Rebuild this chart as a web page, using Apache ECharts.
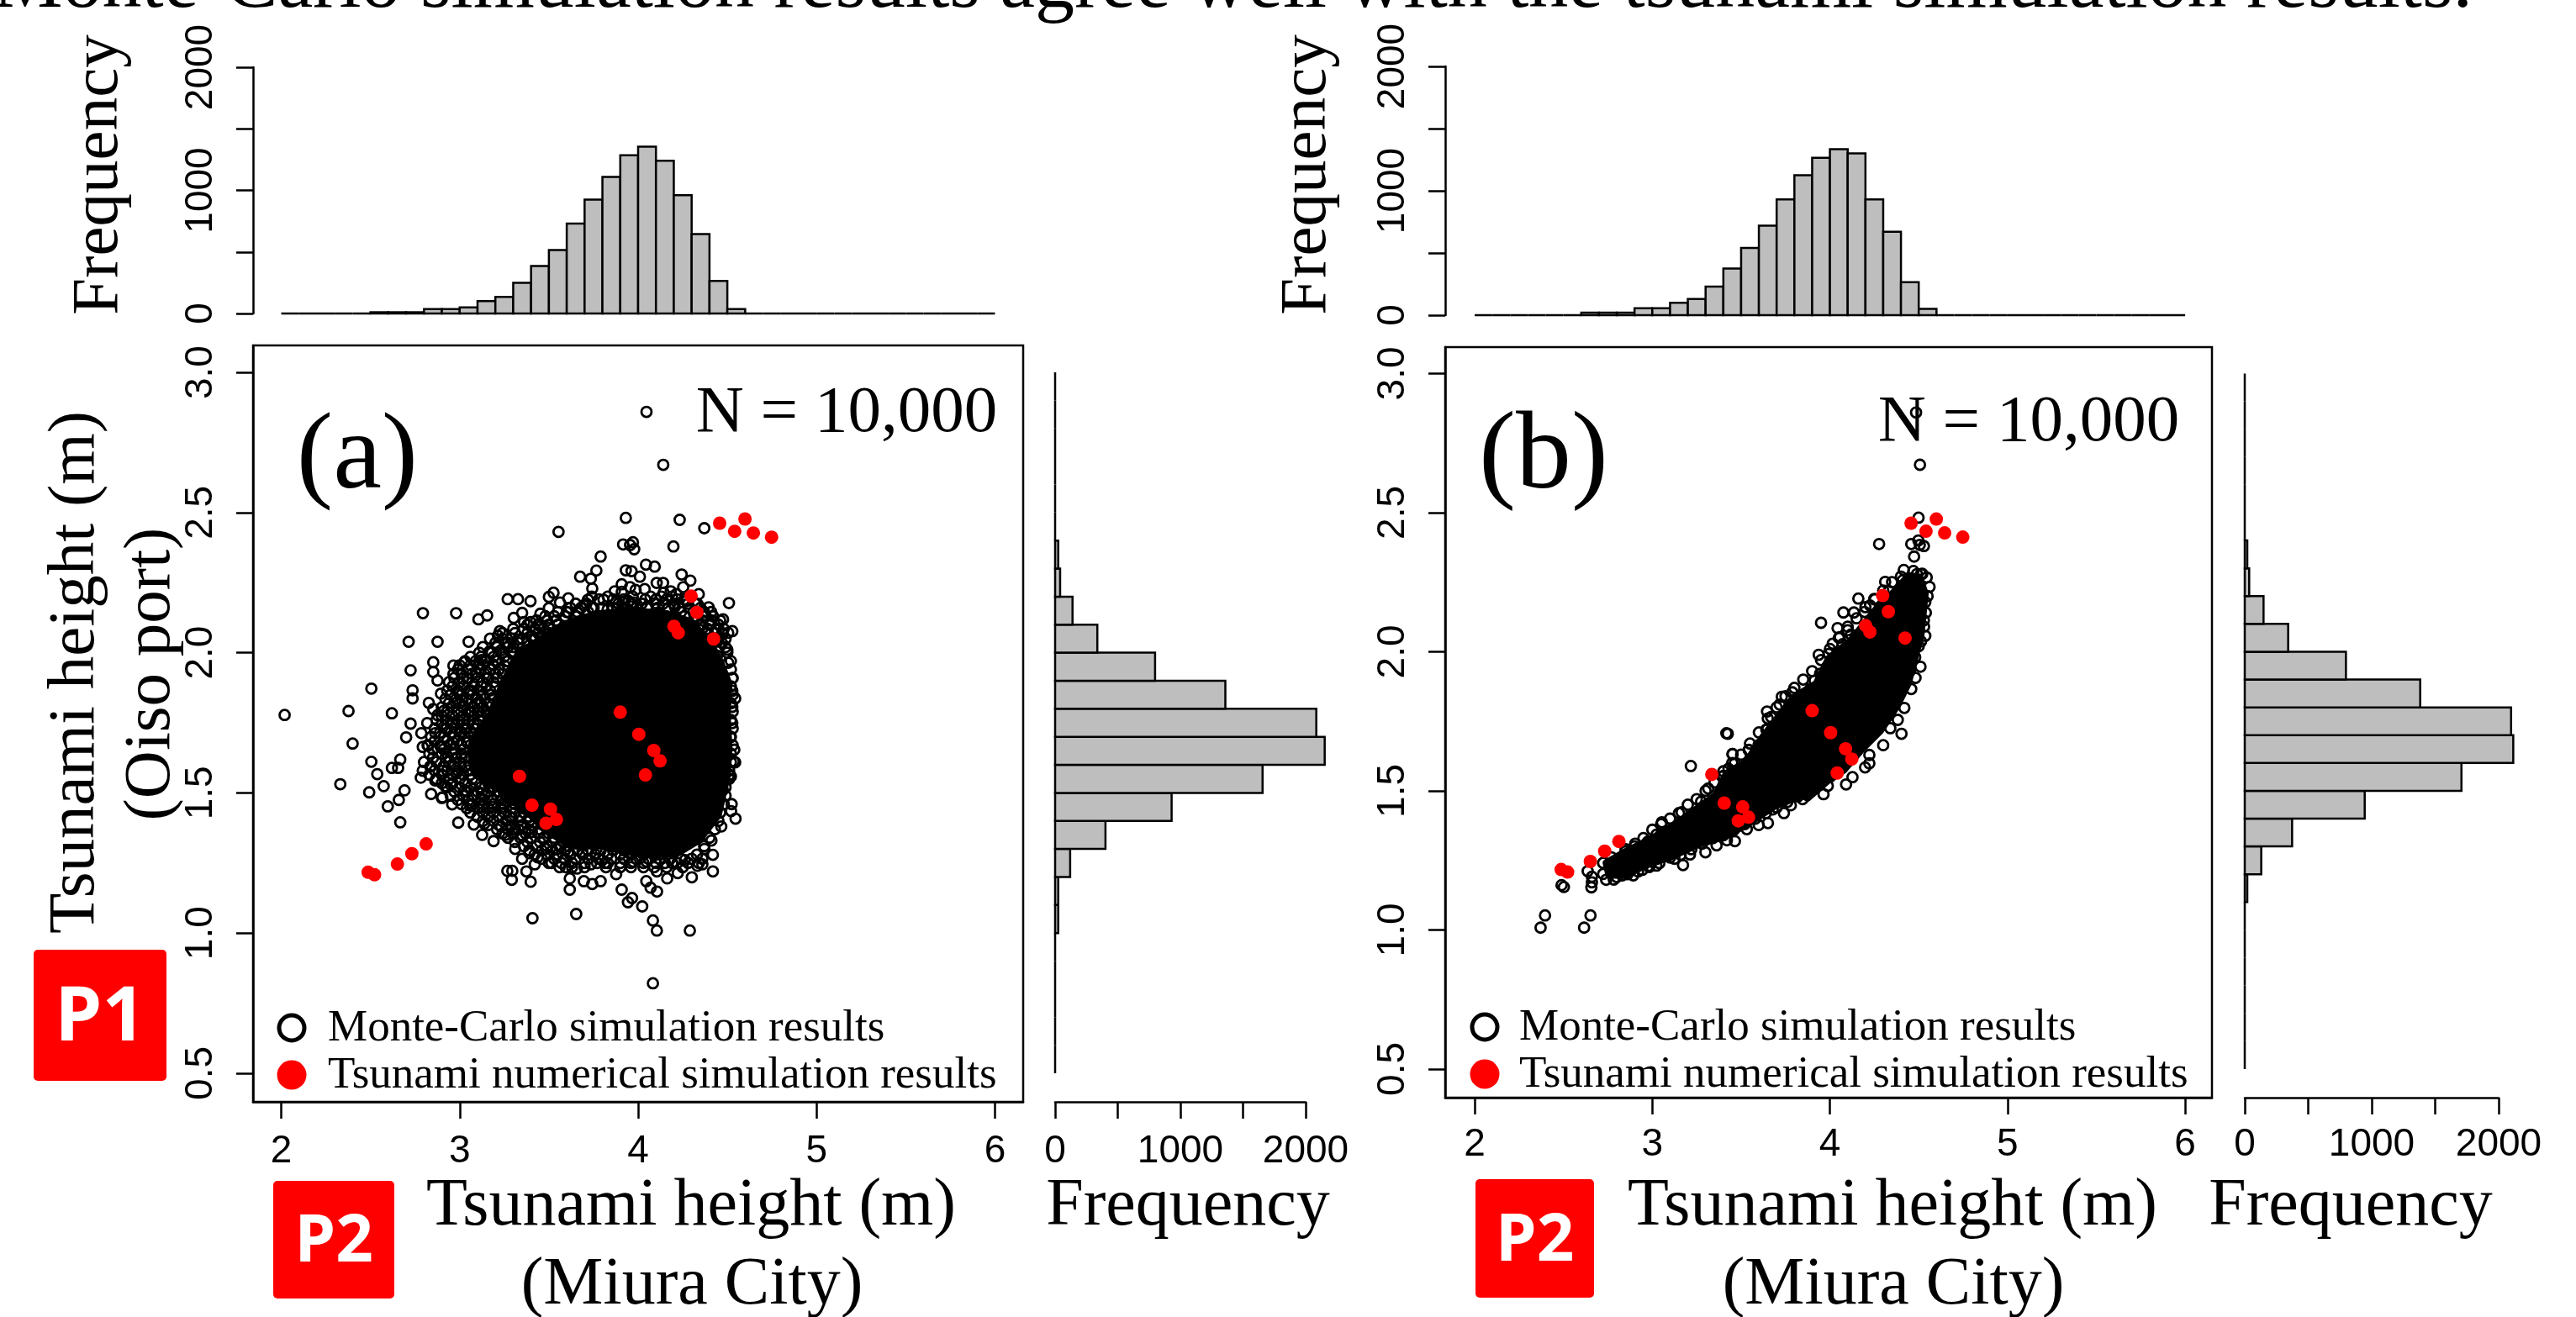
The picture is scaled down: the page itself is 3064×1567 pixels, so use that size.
<!DOCTYPE html>
<html>
<head>
<meta charset="utf-8">
<title>Monte-Carlo simulation results</title>
<script src="https://cdn.jsdelivr.net/npm/echarts@6/dist/echarts.min.js"></script>
<style>html,body{margin:0;padding:0;background:#fff}#c{width:3064px;height:1567px}</style>
</head>
<body>
<div id="c"></div>
<script>
// ---------- data ----------
const xBinStarts = [2.0,2.1,2.2,2.3,2.4,2.5,2.6,2.7,2.8,2.9,3.0,3.1,3.2,3.3,3.4,3.5,3.6,3.7,3.8,3.9,4.0,4.1,4.2,4.3,4.4,4.5,4.6,4.7,4.8,4.9,5.0,5.1,5.2,5.3,5.4,5.5,5.6,5.7,5.8,5.9];
const yBinStarts = [0.5,0.6,0.7,0.8,0.9,1.0,1.1,1.2,1.3,1.4,1.5,1.6,1.7,1.8,1.9,2.0,2.1,2.2,2.3,2.4,2.5,2.6,2.7,2.8,2.9];
const topFreqA = [0,0,0,0,0,10,10,10,35,35,50,100,135,250,385,515,730,925,1110,1285,1355,1240,960,645,265,35,0,0,0,0,0,0,0,0,0,0,0,0,0,0];
const topFreqB = [0,0,0,0,0,0,20,20,20,55,55,100,130,230,375,540,720,930,1125,1265,1335,1300,930,670,265,50,0,0,0,0,0,0,0,0,0,0,0,0,0,0];
const rightFreqA = [0,0,0,0,0,25,25,120,402,930,1656,2152,2085,1359,798,337,139,40,25,0,0,0,0,0,0];
const rightFreqB = [0,0,0,0,0,0,20,130,373,945,1707,2115,2098,1382,797,342,148,35,20,0,0,0,0,0,0];
const xTicks = [2,3,4,5,6];
const yTicks = [0.5,1.0,1.5,2.0,2.5,3.0];

const numericalResults = [[4.457,2.462],[4.599,2.477],[4.541,2.433],[4.646,2.427],[4.748,2.412],[4.297,2.202],[4.329,2.144],[4.201,2.094],[4.225,2.071],[4.423,2.049],[3.900,1.788],[4.004,1.709],[4.088,1.651],[4.123,1.614],[4.041,1.564],[3.335,1.559],[3.405,1.456],[3.509,1.442],[3.542,1.405],[3.484,1.392],[2.812,1.318],[2.732,1.283],[2.651,1.246],[2.487,1.217],[2.523,1.208]];

// outline of the fully black (overplotted) cloud
const denseCloudA = [[3.56,2.09],[3.33,2.00],[3.24,1.89],[3.17,1.78],[3.08,1.70],[3.06,1.66],[3.08,1.57],[3.25,1.50],[3.38,1.43],[3.50,1.36],[3.62,1.31],[3.80,1.31],[4.02,1.28],[4.21,1.28],[4.34,1.33],[4.45,1.42],[4.50,1.56],[4.51,1.66],[4.50,1.78],[4.51,1.89],[4.46,1.97],[4.41,2.03],[4.30,2.11],[4.16,2.14],[3.97,2.15],[3.78,2.14],[3.66,2.12]];
const denseCloudB = [[4.506,2.269],[4.537,2.208],[4.513,2.057],[4.474,1.966],[4.442,1.886],[4.379,1.805],[4.285,1.715],[4.174,1.644],[4.079,1.574],[3.985,1.534],[3.874,1.473],[3.843,1.483],[3.685,1.443],[3.528,1.377],[3.417,1.337],[3.259,1.307],[3.102,1.261],[2.960,1.231],[2.849,1.196],[2.755,1.196],[2.739,1.241],[2.849,1.282],[3.007,1.332],[3.133,1.382],[3.244,1.433],[3.354,1.483],[3.417,1.563],[3.528,1.604],[3.622,1.695],[3.795,1.836],[3.922,1.886],[3.993,1.977],[4.111,2.037],[4.253,2.148],[4.379,2.228],[4.442,2.274]];

const monteCarloA = [[4.047,2.859],[4.141,2.670],[3.554,2.431],[3.526,2.214],[3.50,2.199],[3.269,2.191],[3.327,2.191],[3.397,2.184],[2.794,2.141],[2.980,2.141],[3.154,2.133],[3.105,2.119],[3.303,2.124],[3.350,2.142],[3.361,2.109],[3.397,2.109],[3.452,2.094],[2.714,2.039],[2.876,2.039],[3.050,2.039],[3.225,2.077],[3.214,2.061],[3.327,2.047],[3.167,2.004],[3.256,2.034],[3.303,2.004],[2.852,1.966],[2.725,1.937],[2.852,1.931],[2.876,1.901],[2.965,1.954],[2.965,1.924],[3.027,1.966],[3.016,1.907],[3.052,1.907],[3.122,1.974],[3.107,1.959],[2.505,1.872],[2.736,1.866],[2.736,1.837],[2.895,1.854],[2.994,1.859],[3.060,1.866],[2.978,1.821],[3.016,1.829],[2.827,1.821],[2.852,1.799],[2.911,1.792],[2.876,1.777],[2.019,1.778],[2.377,1.792],[2.620,1.784],[2.725,1.747],[2.818,1.749],[2.958,1.751],[2.926,1.729],[2.863,1.713],[2.785,1.713],[2.700,1.698],[2.400,1.676],[2.793,1.664],[2.824,1.669],[2.895,1.664],[3.005,1.717],[3.020,1.759],[3.060,1.789],[2.505,1.611],[2.667,1.619],[2.620,1.589],[2.655,1.589],[2.538,1.567],[2.793,1.579],[2.835,1.594],[2.782,1.554],[2.331,1.531],[2.574,1.524],[2.493,1.502],[2.691,1.509],[2.863,1.544],[2.918,1.524],[2.840,1.496],[2.903,1.484],
[3.091,1.929],[3.154,1.909],[3.185,1.959],[3.233,2.009],[3.264,1.969],[3.123,1.879],[3.185,1.839],[3.248,1.879],[3.099,1.819],[3.154,1.779],[3.028,1.729],[3.091,1.729],[2.965,1.679],[3.044,1.679],[2.934,1.629],[3.013,1.629],[3.091,1.659],[2.903,1.579],[2.981,1.569],[3.060,1.599],[3.123,1.579],[3.185,1.569],[2.950,1.529],[3.028,1.509],[3.123,1.499],[3.185,1.519],[3.248,1.499],[3.452,2.139],[3.50,2.159],[3.562,2.179],[3.405,2.059],[3.452,2.039],[3.50,2.089],[3.374,2.009],[3.311,1.959],
[3.931,2.481],[4.233,2.474],[4.371,2.444],[3.916,2.386],[3.971,2.394],[3.978,2.369],[3.955,2.384],[4.198,2.379],[3.790,2.343],[4.044,2.314],[4.093,2.307],[3.766,2.293],[3.675,2.271],[3.735,2.264],[3.743,2.229],[3.931,2.294],[3.963,2.291],[4.010,2.271],[4.244,2.279],[4.293,2.257],[4.104,2.249],[4.140,2.249],[4.037,2.227],[4.253,2.234],[3.955,2.234],[3.908,2.244],[3.869,2.219],[3.908,2.217],[3.986,2.224],[3.609,2.194],[3.719,2.189],[3.806,2.189],[3.876,2.179],[3.916,2.179],[3.978,2.179],[3.947,2.184],[4.143,2.214],[4.183,2.219],[4.214,2.209],[4.340,2.209],[4.332,2.174],[4.395,2.162],[4.509,2.177],[4.476,2.119],[4.410,2.104],[4.528,2.077],[4.505,2.071],[4.473,2.067],[4.500,2.011],[3.696,2.169],[3.751,2.159],[3.829,2.154],[4.049,2.164],[4.096,2.177],[4.206,2.164],[3.609,2.144],[3.657,2.129],[3.853,2.134],[4.120,2.139],[4.269,2.184],[4.332,2.119],[4.363,2.089],[4.434,2.039],[4.442,1.989],[4.505,1.964],[4.528,1.909],[4.528,1.864],[4.544,1.837],[4.528,1.807],[4.528,1.749],[4.517,1.699],[4.539,1.654],[4.544,1.609],[4.520,1.559],[4.473,1.509],
[4.536,1.612],[4.513,1.565],[4.474,1.510],[4.524,1.460],[4.521,1.435],[4.546,1.408],[4.466,1.380],[4.411,1.330],[4.419,1.279],[4.372,1.300],[4.419,1.220],[4.360,1.245],[4.332,1.240],[4.301,1.199],[4.222,1.214],[4.163,1.195],[4.262,1.260],[4.191,1.250],[4.105,1.220],[4.106,1.148],[4.070,1.162],[4.046,1.185],[4.046,1.255],[3.971,1.255],[3.877,1.210],[3.908,1.155],[3.966,1.125],[3.943,1.110],[4.023,1.095],[4.083,1.045],[4.105,1.009],[4.290,1.009],[4.083,0.821],[3.814,1.250],
[2.667,1.395],[2.992,1.394],[2.597,1.452],[2.659,1.475],[2.900,1.482],[2.958,1.459],[3.060,1.455],[3.079,1.387],[3.126,1.350],[3.190,1.328],[3.256,1.350],[3.311,1.300],[3.311,1.370],[3.233,1.380],[3.138,1.390],[3.123,1.450],[3.185,1.450],[3.248,1.450],[3.295,1.410],[3.390,1.285],[3.350,1.265],[3.421,1.245],[3.374,1.220],[3.267,1.222],[3.295,1.222],[3.292,1.190],[3.398,1.183],[3.408,1.053],[3.653,1.068],[3.515,1.250],[3.594,1.235],[3.617,1.195],[3.617,1.155],[3.696,1.185],[3.743,1.175],[3.790,1.185],[3.657,1.230],[3.735,1.245],[3.798,1.260],[3.437,1.270],[3.484,1.300],[3.547,1.300],[3.610,1.290],[3.688,1.290],[3.767,1.300],[3.845,1.310],[3.405,1.360],[3.343,1.350]];

// circles packed around the black core, estimated row by row: [height, [x values]]
const monteCarloRingA = [
[2.20,[3.74,3.83,3.97,4.07,4.13,4.19]],
[2.19,[3.78,3.86,3.92,4.04,4.10,4.16,4.22,4.26]],
[2.175,[3.65,3.71,3.89,3.96,4.02,4.14,4.20,4.28,4.32]],
[2.16,[3.62,3.68,3.74,3.80,3.86,3.93,3.99,4.05,4.11,4.17,4.23,4.29,4.35]],
[2.145,[3.55,3.60,3.66,3.72,4.24,4.31,4.37,4.41]],
[2.13,[3.48,3.53,3.59,3.65,4.26,4.32,4.38,4.42]],
[2.115,[3.43,3.49,3.54,4.36,4.41,4.46]],
[2.10,[3.38,3.44,3.50,3.55,4.36,4.40,4.45]],
[2.085,[3.30,3.36,3.42,3.47,4.39,4.44,4.48]],
[2.07,[3.24,3.31,3.38,3.44,3.50,4.38,4.43,4.47]],
[2.05,[3.17,3.24,3.29,3.35,3.41,3.46,4.45,4.49]],
[2.035,[3.20,3.27,3.33,3.38,4.47]],
[2.02,[3.13,3.21,3.27,3.30,4.49]],
[2.00,[3.11,3.18,3.24,3.29,4.50]],[1.97,[4.52]],[1.94,[4.52]],[1.91,[4.53]],[1.88,[4.52]],[1.85,[4.53]],[1.82,[4.52]],[1.79,[4.53]],[1.76,[4.52]],[1.73,[4.53]],[1.70,[4.52]],[1.67,[4.53]],[1.64,[4.52]],[1.61,[4.52]],[1.58,[4.51]],[1.55,[4.51]],[1.52,[4.49]],[1.49,[4.49]],[1.46,[4.48]],[1.43,[4.46]],[1.40,[4.45]],[1.37,[4.43]],[1.34,[4.40]],[1.31,[4.37]],[1.28,[4.33]],
[1.985,[3.06,3.12,3.19,3.25]],
[1.97,[3.03,3.09,3.15,3.21,3.27]],
[1.955,[3.00,3.06,3.13,3.19,3.25]],
[1.94,[2.99,3.05,3.11,3.17,3.22]],
[1.925,[3.01,3.07,3.14,3.20,3.24]],
[1.91,[2.97,3.04,3.10,3.16,3.21]],
[1.895,[2.94,3.00,3.07,3.13,3.19]],
[1.88,[2.96,3.02,3.08,3.15,3.20]],
[1.865,[2.93,2.99,3.05,3.11,3.17]],
[1.85,[2.95,3.01,3.07,3.13,3.17]],
[1.835,[2.92,2.98,3.04,3.10,3.14]],
[1.82,[2.94,3.00,3.06,3.12,3.16]],
[1.805,[2.90,2.96,3.02,3.08,3.13]],
[1.79,[2.93,2.99,3.05,3.11,3.15]],
[1.775,[2.90,2.96,3.02,3.08,3.12]],
[1.76,[2.87,2.93,2.99,3.05,3.11]],
[1.745,[2.90,2.96,3.02,3.08,3.10]],
[1.73,[2.86,2.92,2.98,3.04,3.08]],
[1.715,[2.89,2.95,3.01,3.06]],
[1.70,[2.84,2.91,2.97,3.03]],
[1.685,[2.86,2.93,2.99,3.04]],
[1.67,[2.82,2.89,2.95,3.01]],
[1.655,[2.85,2.91,2.97,3.02]],
[1.64,[2.83,2.90,2.96,3.01]],
[1.625,[2.85,2.92,2.98,3.03]],
[1.61,[2.80,2.87,2.94,3.00]],
[1.595,[2.84,2.91,2.97,3.03]],
[1.58,[2.86,2.93,2.99,3.05]],
[1.565,[2.83,2.90,2.96,3.02,3.06]],
[1.55,[2.87,2.94,3.00,3.07,3.14]],
[1.535,[2.90,2.96,3.03,3.09,3.16]],
[1.52,[2.93,3.00,3.06,3.12,3.19]],
[1.505,[2.97,3.04,3.10,3.16,3.22]],
[1.49,[2.95,3.02,3.08,3.14,3.21,3.26]],
[1.475,[2.99,3.05,3.12,3.18,3.24,3.30]],
[1.46,[3.01,3.07,3.13,3.19,3.25,3.31,3.36]],
[1.445,[3.04,3.10,3.16,3.23,3.29,3.35]],
[1.43,[3.06,3.13,3.19,3.25,3.31,3.36,3.41]],
[1.415,[3.10,3.16,3.22,3.28,3.34,3.39]],
[1.40,[3.13,3.19,3.26,3.33,3.39,3.45]],
[1.385,[3.16,3.22,3.29,3.35,3.41,3.47]],
[1.37,[3.21,3.27,3.33,3.39,3.45,3.50]],
[1.355,[3.24,3.30,3.37,3.44,3.50,3.56]],
[1.34,[3.27,3.34,3.40,3.47,3.53,3.59]],
[1.325,[3.31,3.38,3.45,3.52,3.58,3.63]],
[1.31,[3.36,3.43,3.49,3.56,3.61]],
[1.295,[3.39,3.46,3.52,3.59,3.66,3.72,3.79,3.86,3.92,3.98]],
[1.28,[3.42,3.49,3.55,3.62,3.69,3.76,3.83,3.90,3.96,4.03,4.10]],
[1.265,[3.46,3.53,3.59,3.65,3.72,3.78,3.85,3.92,3.99,4.06,4.12,4.18,4.24,4.30,4.36]],
[1.25,[3.50,3.57,3.63,3.70,3.77,3.83,3.90,3.96,4.03,4.10,4.15,4.22,4.28,4.34]],
[1.235,[3.56,3.63,3.70,3.82,3.90,3.96,4.03,4.09,4.16,4.25]]
];

const monteCarloB = [[4.485,2.860],[4.507,2.672],[4.499,2.482],[4.277,2.387],[4.458,2.387],[4.498,2.400],[4.529,2.380],[4.506,2.384],[4.474,2.342],[4.416,2.294],[4.411,2.257],[4.513,2.279],[4.545,2.267],[4.490,2.279],[4.561,2.233],[4.442,2.259],[4.311,2.251],[4.332,2.218],[4.160,2.191],[4.226,2.166],[4.253,2.188],[4.076,2.141],[4.135,2.141],[4.195,2.143],[3.950,2.104],[4.043,2.085],[4.100,2.077],[4.056,2.052],[4.119,2.062],[4.072,2.027],[4.016,2.029],[3.937,1.989],[3.993,1.992],[4.537,2.178],[4.529,2.113],[4.537,2.057],[4.513,2.037],[4.510,1.946],[4.482,1.906],[4.458,1.866],[4.419,1.798],[4.382,1.755],[4.403,1.705],[4.340,1.725],[4.300,1.664],[4.222,1.629],[4.198,1.584],[4.222,1.599],[4.127,1.549],[4.091,1.523],[3.988,1.518],[3.964,1.488],[3.985,1.946],[3.945,1.921],[3.914,1.896],[3.890,1.866],[3.788,1.854],[3.729,1.838],[3.717,1.810],[3.646,1.785],[3.669,1.765],[3.642,1.720],[3.425,1.705],[3.543,1.646],[3.451,1.632],[3.598,1.664],[3.464,1.599],[3.429,1.579],[3.401,1.554],
[3.417,1.707],[3.217,1.589],[3.452,1.632],[3.543,1.647],[3.646,1.720],[3.394,1.551],[3.315,1.508],[3.275,1.461],[3.165,1.423],[3.054,1.387],[3.023,1.342],[2.904,1.310],[2.975,1.317],[2.849,1.282],[2.770,1.261],[2.723,1.241],[2.636,1.211],[2.660,1.191],[2.660,1.171],[2.657,1.153],[2.723,1.201],[2.783,1.181],[2.830,1.196],[2.893,1.196],[3.023,1.231],[3.173,1.233],[3.212,1.271],[3.299,1.279],[3.362,1.304],[3.420,1.322],[3.465,1.319],[3.532,1.362],[3.599,1.377],[3.651,1.384],[3.741,1.420],[3.780,1.448],[3.846,1.470],[2.489,1.161],[2.502,1.154],[2.396,1.052],[2.371,1.008],[2.652,1.052],[2.616,1.008],[2.944,1.216],[2.983,1.226],[3.125,1.256],[3.678,1.433],
[2.78,1.24],[2.85,1.29],[2.90,1.30],[2.95,1.33],[3.00,1.36],[3.05,1.38],[3.10,1.40],[3.15,1.42],[3.20,1.45],[3.25,1.47],[3.30,1.50],[3.35,1.53],[3.40,1.57],[3.45,1.60],[3.50,1.63],[3.55,1.67],[3.60,1.71],[3.65,1.76],[3.70,1.80],[3.75,1.84],[3.80,1.87],[3.85,1.90],[3.90,1.93],[3.95,1.97],[4.00,2.01],[4.05,2.05],[4.10,2.09],[4.15,2.12],[4.20,2.16],[4.25,2.19],[4.30,2.22],[4.35,2.25],[4.40,2.27],[4.47,2.29],[4.52,2.28],[4.55,2.20],[4.54,2.14],[4.53,2.09],
[2.74,1.18],[2.80,1.19],[2.86,1.20],[2.92,1.21],[2.98,1.23],[3.04,1.24],[3.10,1.26],[3.16,1.27],[3.22,1.29],[3.28,1.31],[3.34,1.33],[3.40,1.34],[3.46,1.36],[3.52,1.38],[3.58,1.40],[3.64,1.42],[3.70,1.44],[3.76,1.46],[3.82,1.48],[3.88,1.50],[3.94,1.52],[4.00,1.55],[4.06,1.59],[4.12,1.63],[4.18,1.68],[4.24,1.73],[4.30,1.78],[4.35,1.83],[4.40,1.88],[4.45,1.93],[4.48,1.98],[4.50,2.02]];

// ---------- style and layout ----------
const SERIF = '"Liberation Serif","Times New Roman",serif';
const SANS = '"Liberation Sans",Arial,sans-serif';
const BLACK = '#000';
const GREY = '#bebebe';

const lineStyle = {color: BLACK, width: 2.5};
const labelBase = {fontFamily: SANS, fontSize: 46, color: BLACK, hideOverlap: false};

function tickedAxis(extra) {
  return Object.assign({
    type: 'value', splitLine: {show: false},
    axisLine: {show: true, onZero: false, lineStyle},
    axisTick: {show: true, length: 20, lineStyle}
  }, extra);
}
function hiddenAxis(extra) {
  return Object.assign({type: 'value', show: false}, extra);
}
function scatterX(min, max, gridIndex, margin) {
  return tickedAxis({gridIndex, min, max, position: 'bottom',
    axisTick: {show: true, length: 20, lineStyle, customValues: xTicks},
    axisLabel: Object.assign({margin, customValues: xTicks}, labelBase)});
}
function scatterY(min, max, gridIndex) {
  return tickedAxis({gridIndex, min, max, position: 'left',
    axisTick: {show: true, length: 20, lineStyle, customValues: yTicks},
    axisLabel: Object.assign({margin: 39, rotate: 90, customValues: yTicks, formatter: v => v.toFixed(1)}, labelBase)});
}
const thousands = v => (v % 1000 === 0 ? String(v) : '');
function freqY(gridIndex) {
  return tickedAxis({gridIndex, min: 0, max: 2000, interval: 500, position: 'left',
    axisLabel: Object.assign({margin: 39, rotate: 90, formatter: thousands}, labelBase)});
}
function freqX(gridIndex, margin) {
  return tickedAxis({gridIndex, min: 0, max: 2000, interval: 500, position: 'bottom',
    axisLabel: Object.assign({margin, formatter: thousands}, labelBase)});
}

function renderVBar(params, api) {
  const lo = api.coord([api.value(0), 0]);
  const hi = api.coord([api.value(0) + 0.1, api.value(1)]);
  return {type: 'rect', shape: {x: lo[0], y: hi[1], width: hi[0] - lo[0], height: lo[1] - hi[1]},
    style: {fill: GREY, stroke: BLACK, lineWidth: 2.5}};
}
function renderHBar(params, api) {
  const lo = api.coord([0, api.value(0)]);
  const hi = api.coord([api.value(1), api.value(0) + 0.1]);
  return {type: 'rect', shape: {x: lo[0], y: hi[1], width: hi[0] - lo[0], height: lo[1] - hi[1]},
    style: {fill: GREY, stroke: BLACK, lineWidth: 2.5}};
}
function cloudRenderer(outline) {
  return function (params, api) {
    if (params.dataIndex !== 0) return null;
    return {type: 'polygon', shape: {points: outline.map(p => api.coord(p))},
      style: {fill: BLACK, stroke: BLACK, lineWidth: 8, lineJoin: 'round'}};
  };
}
function vBars(freq, idx) {
  return {type: 'custom', name: 'Frequency', xAxisIndex: idx, yAxisIndex: idx, clip: false, silent: true,
    data: xBinStarts.map((b, i) => [b, freq[i]]), renderItem: renderVBar, encode: {x: 0, y: 1}};
}
function hBars(freq, idx) {
  return {type: 'custom', name: 'Frequency', xAxisIndex: idx, yAxisIndex: idx, clip: false, silent: true,
    data: yBinStarts.map((b, i) => [b, freq[i]]), renderItem: renderHBar, encode: {x: 1, y: 0}};
}
function scatterSeries(points, cloud, idx) {
  return [
    {type: 'custom', name: 'Dense cloud', xAxisIndex: idx, yAxisIndex: idx, silent: true, z: 2,
      data: cloud, renderItem: cloudRenderer(cloud), encode: {x: 0, y: 1}},
    {type: 'scatter', name: 'Monte-Carlo simulation results', xAxisIndex: idx, yAxisIndex: idx, z: 3,
      symbol: 'circle', symbolSize: 12, data: points, silent: true,
      itemStyle: {color: 'rgba(0,0,0,0)', borderColor: BLACK, borderWidth: 2.8, opacity: 1}},
    {type: 'scatter', name: 'Tsunami numerical simulation results', xAxisIndex: idx, yAxisIndex: idx, z: 4,
      symbol: 'circle', symbolSize: 16, data: numericalResults, silent: true,
      itemStyle: {color: '#ff0000', opacity: 1}}
  ];
}

function label(text, x, y, size, opts) {
  return Object.assign({type: 'text', x, y, z: 50, silent: true,
    style: Object.assign({text, fontFamily: SERIF, fontSize: size, fill: BLACK, align: 'center', verticalAlign: 'middle'},
      (opts && opts.style) || {})}, opts && opts.el);
}
function badge(text, x, y, w, h, size) {
  return [
    {type: 'rect', z: 60, silent: true, shape: {x, y, width: w, height: h, r: 5}, style: {fill: '#ff0000'}},
    {type: 'text', z: 61, silent: true, x: x + w / 2, y: y + h / 2 + 4,
      style: {text, fontFamily: '"Open Sans","Noto Sans",sans-serif', fontWeight: 'bold', fontSize: size, fill: '#fff', align: 'center', verticalAlign: 'middle'}}
  ];
}
function legendBlock(cx, textX, y1, y2) {
  const st = {style: {align: 'left'}};
  return [
    {type: 'circle', z: 50, silent: true, shape: {cx, cy: y1 - 1, r: 15}, style: {fill: 'none', stroke: BLACK, lineWidth: 5}},
    {type: 'circle', z: 50, silent: true, shape: {cx, cy: y2 - 1, r: 17.5}, style: {fill: '#ff0000'}},
    label('Monte-Carlo simulation results', textX, y1, 53, st),
    label('Tsunami numerical simulation results', textX, y2, 53, st)
  ];
}
const UP = {rotation: Math.PI / 2};

const option = {
  backgroundColor: '#fff',
  animation: false,
  grid: [
    {left: 301, top: 411, width: 916, height: 900, show: true, borderColor: BLACK, borderWidth: 2.5, backgroundColor: 'transparent'},
    {left: 301, top: 80, width: 916, height: 293},
    {left: 1255, top: 411, width: 298, height: 900},
    {left: 1719, top: 413, width: 912, height: 893, show: true, borderColor: BLACK, borderWidth: 2.5, backgroundColor: 'transparent'},
    {left: 1719, top: 79, width: 912, height: 296},
    {left: 2670, top: 413, width: 302, height: 893}
  ],
  xAxis: [
    scatterX(1.842, 6.158, 0, 36),
    hiddenAxis({gridIndex: 1, min: 1.842, max: 6.158}),
    freqX(2, 36),
    scatterX(1.834, 6.151, 3, 33),
    hiddenAxis({gridIndex: 4, min: 1.834, max: 6.151}),
    freqX(5, 33)
  ],
  yAxis: [
    scatterY(0.398, 3.096, 0),
    freqY(1),
    hiddenAxis({gridIndex: 2, min: 0.398, max: 3.096}),
    scatterY(0.397, 3.095, 3),
    freqY(4),
    hiddenAxis({gridIndex: 5, min: 0.397, max: 3.095})
  ],
  series: [
    ...scatterSeries(monteCarloA.concat(monteCarloRingA.flatMap(([y, xs]) => xs.map(x => [x, y]))), denseCloudA, 0),
    vBars(topFreqA, 1),
    hBars(rightFreqA, 2),
    ...scatterSeries(monteCarloB, denseCloudB, 3),
    vBars(topFreqB, 4),
    hBars(rightFreqB, 5)
  ],
  graphic: {elements: [
    label('Monte-Carlo simulation results agree well with the tsunami simulation results.', 1466, -17, 94),
    label('Frequency', 118, 208, 79, {el: UP}),
    label('Frequency', 1555, 208, 79, {el: UP}),
    label('Tsunami height (m)', 90, 800, 79, {el: UP}),
    label('(Oiso port)', 180, 802, 79, {el: UP}),
    label('(a)', 425, 546, 130),
    label('(b)', 1836, 545, 132),
    label('N = 10,000', 1007, 492, 79),
    label('N = 10,000', 2413, 503, 79),
    label('Tsunami height (m)', 822, 1436, 80),
    label('(Miura City)', 823, 1530, 80),
    label('Tsunami height (m)', 2251, 1436, 80),
    label('(Miura City)', 2252, 1530, 80),
    label('Frequency', 1413, 1436, 80),
    label('Frequency', 2796, 1436, 80),
    ...legendBlock(347, 390, 1224, 1280),
    ...legendBlock(1766, 1807, 1223, 1279),
    ...badge('P1', 40, 1130, 158, 156, 90),
    ...badge('P2', 325, 1405, 144, 140, 78),
    ...badge('P2', 1755, 1403, 141, 141, 78)
  ]}
};
echarts.init(document.getElementById('c'), null, {renderer: 'canvas'}).setOption(option);
</script>
</body>
</html>
